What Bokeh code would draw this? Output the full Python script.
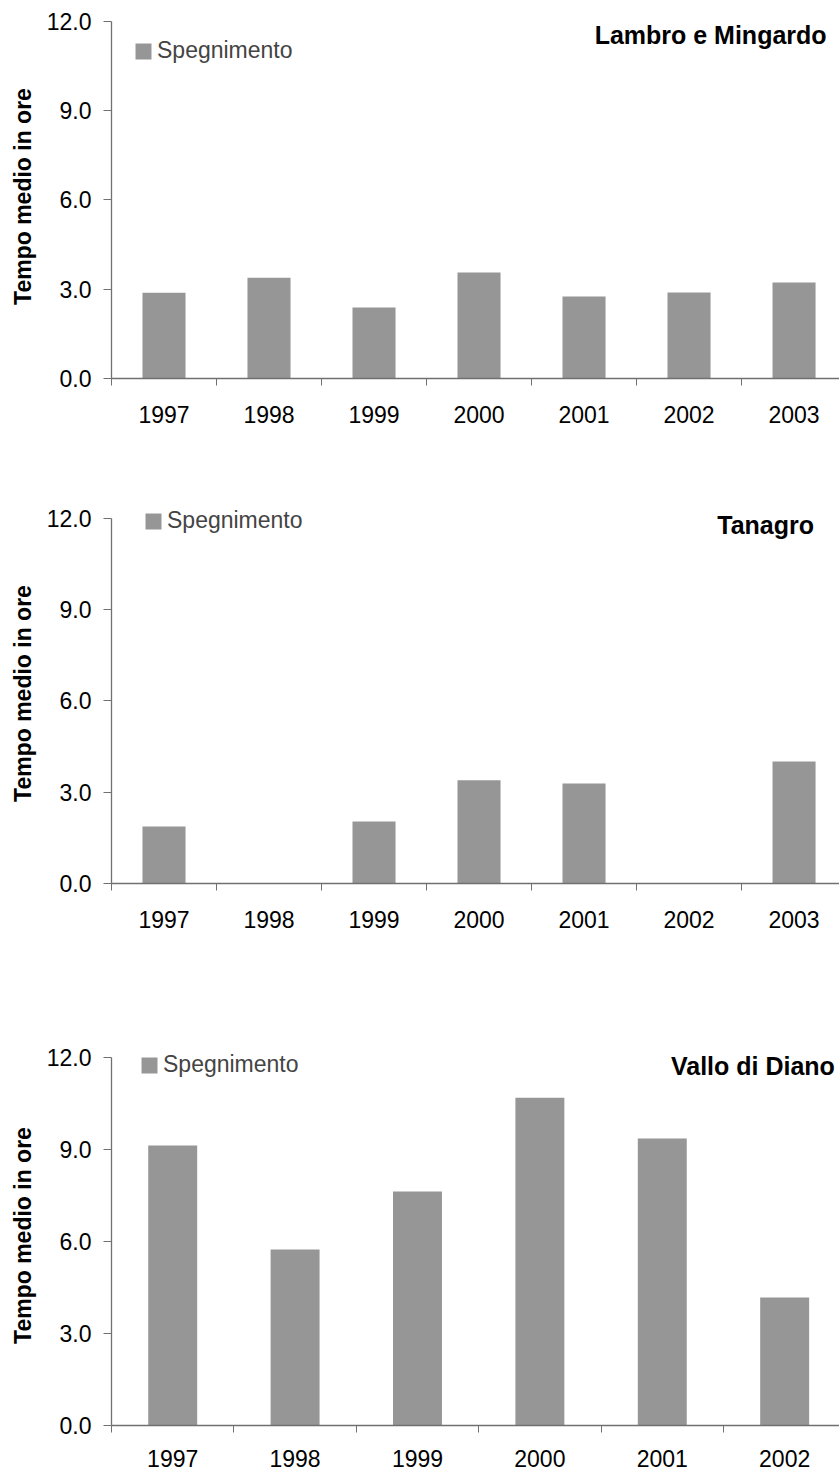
from bokeh.plotting import figure
from bokeh.layouts import column
from bokeh.models import (Range1d, FixedTicker, Legend, LegendItem, Label,
                          PrintfTickFormatter, ColumnDataSource)
from bokeh.embed import file_html
from bokeh.resources import INLINE

# ---- data ----
years_a = ["1997", "1998", "1999", "2000", "2001", "2002", "2003"]
lambro = [2.88, 3.39, 2.39, 3.56, 2.76, 2.89, 3.23]
tanagro = [1.87, 0.0, 2.04, 3.39, 3.29, 0.0, 4.01]
years_b = ["1997", "1998", "1999", "2000", "2001", "2002"]
vallo = [9.13, 5.74, 7.63, 10.69, 9.36, 4.17]
y_ticks = [0, 3, 6, 9, 12]
series_name = "Spegnimento"
y_title = "Tempo medio in ore"

FONT = "Liberation Sans"
BAR = "#969696"
AX = "#707070"


def panel(years, vals, title, x_end, y_end, bar_w, height, top, bottom,
          title_pos, legend_loc, x_standoff):
    p = figure(width=839, height=height, x_range=Range1d(0, x_end),
               y_range=Range1d(0, y_end), output_backend="svg",
               toolbar_location=None, min_border_left=111,
               min_border_right=0, min_border_top=top,
               min_border_bottom=bottom)
    p.outline_line_color = None
    p.grid.visible = False
    p.background_fill_color = "white"
    p.border_fill_color = "white"

    xs = [i + 0.5 for i in range(len(years))]
    src = ColumnDataSource(dict(x=xs, top=vals))
    r = p.vbar(x="x", top="top", bottom=0, width=bar_w, source=src,
               fill_color=BAR, line_color=None)

    xa = p.xaxis[0]
    xa.ticker = FixedTicker(ticks=xs, minor_ticks=list(range(len(years) + 1)))
    xa.major_label_overrides = {x: y for x, y in zip(xs, years)}
    xa.major_tick_out = 0
    xa.major_tick_in = 0
    xa.minor_tick_out = 7
    xa.minor_tick_in = 0
    xa.minor_tick_line_color = AX
    xa.axis_line_color = AX
    xa.axis_line_width = 1.3
    xa.major_label_text_font = FONT
    xa.major_label_text_font_size = "23px"
    xa.major_label_text_color = "black"
    xa.major_label_standoff = x_standoff

    ya = p.yaxis[0]
    ya.ticker = FixedTicker(ticks=y_ticks, minor_ticks=[])
    ya.formatter = PrintfTickFormatter(format="%.1f")
    ya.bounds = (y_ticks[0], y_ticks[-1])
    ya.major_tick_out = 8
    ya.major_tick_in = 0
    ya.major_tick_line_color = AX
    ya.axis_line_color = AX
    ya.axis_line_width = 1.3
    ya.major_label_text_font = FONT
    ya.major_label_text_font_size = "23px"
    ya.major_label_text_color = "black"
    ya.major_label_standoff = 12
    ya.axis_label = y_title
    ya.axis_label_text_font = FONT
    ya.axis_label_text_font_size = "23px"
    ya.axis_label_text_font_style = "bold"
    ya.axis_label_text_color = "black"
    ya.axis_label_standoff = 8

    legend = Legend(items=[LegendItem(label=series_name, renderers=[r])],
                    location=legend_loc, padding=0, margin=0,
                    glyph_width=20, glyph_height=20, label_standoff=4,
                    label_text_font=FONT, label_text_font_size="23px",
                    border_line_color=None, background_fill_alpha=0)
    p.add_layout(legend)

    p.add_layout(Label(x=title_pos[0], y=title_pos[1], text=title,
                       text_align="right", text_baseline="alphabetic",
                       text_font=FONT, text_font_size="25px",
                       text_font_style="bold", text_color="black"))
    return p


p1 = panel(years_a, lambro, "Lambro e Mingardo", 6.933, 12.235, 0.41,
           438, 14, 60, (6.81, 11.53), (22, 314), 20)
p2 = panel(years_a, tanagro, "Tanagro", 6.933, 12.49, 0.41,
           505, 65, 60, (6.69, 11.78), (32, 349), 20)
p3 = panel(years_b, vallo, "Vallo di Diano", 5.948, 12.39, 0.40,
           527, 102, 45, (5.91, 11.73), (28, 347), 17)

layout = column(p1, p2, p3, spacing=0)
open("out.html", "w").write(file_html(layout, INLINE))
